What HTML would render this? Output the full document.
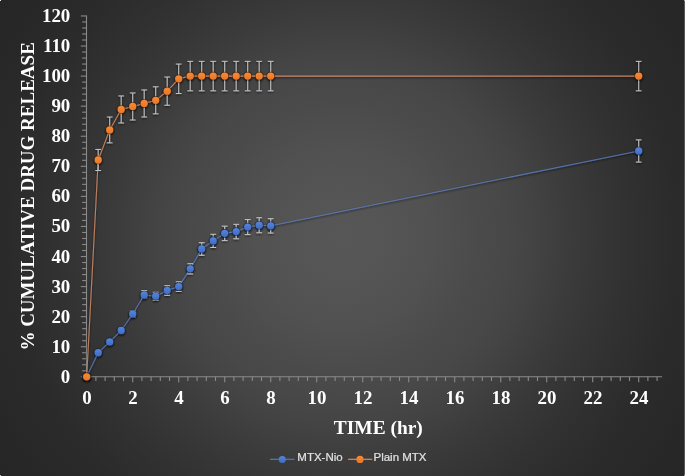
<!DOCTYPE html>
<html><head><meta charset="utf-8">
<style>
html,body{margin:0;padding:0;background:#fff;}
body{width:685px;height:476px;overflow:hidden;}
svg{display:block;}
.tl{font-family:"Liberation Serif",serif;font-weight:bold;fill:#fff;}
.lg{font-family:"Liberation Sans",sans-serif;fill:#e2e2e2;stroke:#e2e2e2;stroke-width:0.2px;}
</style></head><body>
<svg width="685" height="476" viewBox="0 0 685 476">
<defs>
<radialGradient id="bg" gradientUnits="userSpaceOnUse" cx="342.5" cy="238" r="417">
<stop offset="0" stop-color="rgb(87,87,87)"/>
<stop offset="0.11" stop-color="rgb(85,85,85)"/>
<stop offset="0.216" stop-color="rgb(81,81,81)"/>
<stop offset="0.32" stop-color="rgb(75,75,75)"/>
<stop offset="0.39" stop-color="rgb(72,72,72)"/>
<stop offset="0.45" stop-color="rgb(68,68,68)"/>
<stop offset="0.55" stop-color="rgb(59,59,59)"/>
<stop offset="0.616" stop-color="rgb(54,54,54)"/>
<stop offset="0.69" stop-color="rgb(49,49,49)"/>
<stop offset="0.80" stop-color="rgb(43,43,43)"/>
<stop offset="0.94" stop-color="rgb(39,39,39)"/>
<stop offset="1" stop-color="rgb(38,38,38)"/>
</radialGradient>
<filter id="sh" x="-20%" y="-20%" width="140%" height="140%">
<feGaussianBlur in="SourceAlpha" stdDeviation="0.9"/>
<feOffset dx="0.3" dy="0.7" result="o"/>
<feComponentTransfer><feFuncA type="linear" slope="0.85"/></feComponentTransfer>
<feMerge><feMergeNode/><feMergeNode in="SourceGraphic"/></feMerge>
</filter>
<linearGradient id="gb" x1="0" y1="0" x2="0" y2="1"><stop offset="0" stop-color="#5585dc"/><stop offset="1" stop-color="#3f6cc2"/></linearGradient>
<linearGradient id="go" x1="0" y1="0" x2="0" y2="1"><stop offset="0" stop-color="#f78a33"/><stop offset="1" stop-color="#e8772a"/></linearGradient>
<filter id="gs"><feOffset dx="0" dy="0"/></filter>
</defs>
<rect x="0" y="0" width="685" height="476" fill="url(#bg)"/>
<rect x="684" y="0" width="1" height="476" fill="#585858"/>
<rect x="0" y="0" width="1" height="1" fill="#f0f0f0"/>
<rect x="684" y="0" width="1" height="1" fill="#b0b0b0"/>
<rect x="0" y="475" width="1" height="1" fill="#c4c4c4"/>
<rect x="684" y="475" width="1" height="1" fill="#b0b0b0"/>

<g stroke="#8a8a8a" stroke-width="1.1" fill="none">
<line x1="86.5" y1="15.46" x2="86.5" y2="377.3"/>
<line x1="86" y1="376.8" x2="662" y2="376.8"/>
<line x1="80.8" y1="376.80" x2="86.5" y2="376.80"/>
<line x1="82.2" y1="370.79" x2="86.5" y2="370.79"/>
<line x1="82.2" y1="364.77" x2="86.5" y2="364.77"/>
<line x1="82.2" y1="358.76" x2="86.5" y2="358.76"/>
<line x1="82.2" y1="352.74" x2="86.5" y2="352.74"/>
<line x1="80.8" y1="346.73" x2="86.5" y2="346.73"/>
<line x1="82.2" y1="340.72" x2="86.5" y2="340.72"/>
<line x1="82.2" y1="334.70" x2="86.5" y2="334.70"/>
<line x1="82.2" y1="328.69" x2="86.5" y2="328.69"/>
<line x1="82.2" y1="322.67" x2="86.5" y2="322.67"/>
<line x1="80.8" y1="316.66" x2="86.5" y2="316.66"/>
<line x1="82.2" y1="310.65" x2="86.5" y2="310.65"/>
<line x1="82.2" y1="304.63" x2="86.5" y2="304.63"/>
<line x1="82.2" y1="298.62" x2="86.5" y2="298.62"/>
<line x1="82.2" y1="292.60" x2="86.5" y2="292.60"/>
<line x1="80.8" y1="286.59" x2="86.5" y2="286.59"/>
<line x1="82.2" y1="280.58" x2="86.5" y2="280.58"/>
<line x1="82.2" y1="274.56" x2="86.5" y2="274.56"/>
<line x1="82.2" y1="268.55" x2="86.5" y2="268.55"/>
<line x1="82.2" y1="262.53" x2="86.5" y2="262.53"/>
<line x1="80.8" y1="256.52" x2="86.5" y2="256.52"/>
<line x1="82.2" y1="250.51" x2="86.5" y2="250.51"/>
<line x1="82.2" y1="244.49" x2="86.5" y2="244.49"/>
<line x1="82.2" y1="238.48" x2="86.5" y2="238.48"/>
<line x1="82.2" y1="232.46" x2="86.5" y2="232.46"/>
<line x1="80.8" y1="226.45" x2="86.5" y2="226.45"/>
<line x1="82.2" y1="220.44" x2="86.5" y2="220.44"/>
<line x1="82.2" y1="214.42" x2="86.5" y2="214.42"/>
<line x1="82.2" y1="208.41" x2="86.5" y2="208.41"/>
<line x1="82.2" y1="202.39" x2="86.5" y2="202.39"/>
<line x1="80.8" y1="196.38" x2="86.5" y2="196.38"/>
<line x1="82.2" y1="190.37" x2="86.5" y2="190.37"/>
<line x1="82.2" y1="184.35" x2="86.5" y2="184.35"/>
<line x1="82.2" y1="178.34" x2="86.5" y2="178.34"/>
<line x1="82.2" y1="172.32" x2="86.5" y2="172.32"/>
<line x1="80.8" y1="166.31" x2="86.5" y2="166.31"/>
<line x1="82.2" y1="160.30" x2="86.5" y2="160.30"/>
<line x1="82.2" y1="154.28" x2="86.5" y2="154.28"/>
<line x1="82.2" y1="148.27" x2="86.5" y2="148.27"/>
<line x1="82.2" y1="142.25" x2="86.5" y2="142.25"/>
<line x1="80.8" y1="136.24" x2="86.5" y2="136.24"/>
<line x1="82.2" y1="130.23" x2="86.5" y2="130.23"/>
<line x1="82.2" y1="124.21" x2="86.5" y2="124.21"/>
<line x1="82.2" y1="118.20" x2="86.5" y2="118.20"/>
<line x1="82.2" y1="112.18" x2="86.5" y2="112.18"/>
<line x1="80.8" y1="106.17" x2="86.5" y2="106.17"/>
<line x1="82.2" y1="100.16" x2="86.5" y2="100.16"/>
<line x1="82.2" y1="94.14" x2="86.5" y2="94.14"/>
<line x1="82.2" y1="88.13" x2="86.5" y2="88.13"/>
<line x1="82.2" y1="82.11" x2="86.5" y2="82.11"/>
<line x1="80.8" y1="76.10" x2="86.5" y2="76.10"/>
<line x1="82.2" y1="70.09" x2="86.5" y2="70.09"/>
<line x1="82.2" y1="64.07" x2="86.5" y2="64.07"/>
<line x1="82.2" y1="58.06" x2="86.5" y2="58.06"/>
<line x1="82.2" y1="52.04" x2="86.5" y2="52.04"/>
<line x1="80.8" y1="46.03" x2="86.5" y2="46.03"/>
<line x1="82.2" y1="40.02" x2="86.5" y2="40.02"/>
<line x1="82.2" y1="34.00" x2="86.5" y2="34.00"/>
<line x1="82.2" y1="27.99" x2="86.5" y2="27.99"/>
<line x1="82.2" y1="21.97" x2="86.5" y2="21.97"/>
<line x1="80.8" y1="15.96" x2="86.5" y2="15.96"/>
<line x1="86.70" y1="376.8" x2="86.70" y2="382.3"/>
<line x1="95.90" y1="376.8" x2="95.90" y2="381"/>
<line x1="105.10" y1="376.8" x2="105.10" y2="381"/>
<line x1="114.30" y1="376.8" x2="114.30" y2="381"/>
<line x1="123.50" y1="376.8" x2="123.50" y2="381"/>
<line x1="132.70" y1="376.8" x2="132.70" y2="382.3"/>
<line x1="141.90" y1="376.8" x2="141.90" y2="381"/>
<line x1="151.10" y1="376.8" x2="151.10" y2="381"/>
<line x1="160.30" y1="376.8" x2="160.30" y2="381"/>
<line x1="169.50" y1="376.8" x2="169.50" y2="381"/>
<line x1="178.70" y1="376.8" x2="178.70" y2="382.3"/>
<line x1="187.90" y1="376.8" x2="187.90" y2="381"/>
<line x1="197.10" y1="376.8" x2="197.10" y2="381"/>
<line x1="206.30" y1="376.8" x2="206.30" y2="381"/>
<line x1="215.50" y1="376.8" x2="215.50" y2="381"/>
<line x1="224.70" y1="376.8" x2="224.70" y2="382.3"/>
<line x1="233.90" y1="376.8" x2="233.90" y2="381"/>
<line x1="243.10" y1="376.8" x2="243.10" y2="381"/>
<line x1="252.30" y1="376.8" x2="252.30" y2="381"/>
<line x1="261.50" y1="376.8" x2="261.50" y2="381"/>
<line x1="270.70" y1="376.8" x2="270.70" y2="382.3"/>
<line x1="279.90" y1="376.8" x2="279.90" y2="381"/>
<line x1="289.10" y1="376.8" x2="289.10" y2="381"/>
<line x1="298.30" y1="376.8" x2="298.30" y2="381"/>
<line x1="307.50" y1="376.8" x2="307.50" y2="381"/>
<line x1="316.70" y1="376.8" x2="316.70" y2="382.3"/>
<line x1="325.90" y1="376.8" x2="325.90" y2="381"/>
<line x1="335.10" y1="376.8" x2="335.10" y2="381"/>
<line x1="344.30" y1="376.8" x2="344.30" y2="381"/>
<line x1="353.50" y1="376.8" x2="353.50" y2="381"/>
<line x1="362.70" y1="376.8" x2="362.70" y2="382.3"/>
<line x1="371.90" y1="376.8" x2="371.90" y2="381"/>
<line x1="381.10" y1="376.8" x2="381.10" y2="381"/>
<line x1="390.30" y1="376.8" x2="390.30" y2="381"/>
<line x1="399.50" y1="376.8" x2="399.50" y2="381"/>
<line x1="408.70" y1="376.8" x2="408.70" y2="382.3"/>
<line x1="417.90" y1="376.8" x2="417.90" y2="381"/>
<line x1="427.10" y1="376.8" x2="427.10" y2="381"/>
<line x1="436.30" y1="376.8" x2="436.30" y2="381"/>
<line x1="445.50" y1="376.8" x2="445.50" y2="381"/>
<line x1="454.70" y1="376.8" x2="454.70" y2="382.3"/>
<line x1="463.90" y1="376.8" x2="463.90" y2="381"/>
<line x1="473.10" y1="376.8" x2="473.10" y2="381"/>
<line x1="482.30" y1="376.8" x2="482.30" y2="381"/>
<line x1="491.50" y1="376.8" x2="491.50" y2="381"/>
<line x1="500.70" y1="376.8" x2="500.70" y2="382.3"/>
<line x1="509.90" y1="376.8" x2="509.90" y2="381"/>
<line x1="519.10" y1="376.8" x2="519.10" y2="381"/>
<line x1="528.30" y1="376.8" x2="528.30" y2="381"/>
<line x1="537.50" y1="376.8" x2="537.50" y2="381"/>
<line x1="546.70" y1="376.8" x2="546.70" y2="382.3"/>
<line x1="555.90" y1="376.8" x2="555.90" y2="381"/>
<line x1="565.10" y1="376.8" x2="565.10" y2="381"/>
<line x1="574.30" y1="376.8" x2="574.30" y2="381"/>
<line x1="583.50" y1="376.8" x2="583.50" y2="381"/>
<line x1="592.70" y1="376.8" x2="592.70" y2="382.3"/>
<line x1="601.90" y1="376.8" x2="601.90" y2="381"/>
<line x1="611.10" y1="376.8" x2="611.10" y2="381"/>
<line x1="620.30" y1="376.8" x2="620.30" y2="381"/>
<line x1="629.50" y1="376.8" x2="629.50" y2="381"/>
<line x1="638.70" y1="376.8" x2="638.70" y2="382.3"/>
<line x1="647.90" y1="376.8" x2="647.90" y2="381"/>
<line x1="657.10" y1="376.8" x2="657.10" y2="381"/>
</g>
<g class="tl" font-size="18.9" filter="url(#gs)">
<text x="70.3" y="382.80" text-anchor="end">0</text>
<text x="70.3" y="352.73" text-anchor="end">10</text>
<text x="70.3" y="322.66" text-anchor="end">20</text>
<text x="70.3" y="292.59" text-anchor="end">30</text>
<text x="70.3" y="262.52" text-anchor="end">40</text>
<text x="70.3" y="232.45" text-anchor="end">50</text>
<text x="70.3" y="202.38" text-anchor="end">60</text>
<text x="70.3" y="172.31" text-anchor="end">70</text>
<text x="70.3" y="142.24" text-anchor="end">80</text>
<text x="70.3" y="112.17" text-anchor="end">90</text>
<text x="70.3" y="82.10" text-anchor="end">100</text>
<text x="70.3" y="52.03" text-anchor="end">110</text>
<text x="70.3" y="21.96" text-anchor="end">120</text>
<text x="87.00" y="404.3" text-anchor="middle">0</text>
<text x="133.00" y="404.3" text-anchor="middle">2</text>
<text x="179.00" y="404.3" text-anchor="middle">4</text>
<text x="225.00" y="404.3" text-anchor="middle">6</text>
<text x="271.00" y="404.3" text-anchor="middle">8</text>
<text x="317.00" y="404.3" text-anchor="middle">10</text>
<text x="363.00" y="404.3" text-anchor="middle">12</text>
<text x="409.00" y="404.3" text-anchor="middle">14</text>
<text x="455.00" y="404.3" text-anchor="middle">16</text>
<text x="501.00" y="404.3" text-anchor="middle">18</text>
<text x="547.00" y="404.3" text-anchor="middle">20</text>
<text x="593.00" y="404.3" text-anchor="middle">22</text>
<text x="639.00" y="404.3" text-anchor="middle">24</text>
<text font-size="19.4" x="378.3" y="434.0" text-anchor="middle">TIME (hr)</text>
<text font-size="19.0" transform="translate(34.0,196.4) rotate(-90)" text-anchor="middle">% CUMULATIVE DRUG RELEASE</text>
</g>
<g filter="url(#sh)">
<polyline points="86.70,376.80 98.20,352.74 109.70,341.92 121.20,330.49 132.70,313.95 144.20,295.01 155.70,296.21 167.20,290.50 178.70,286.59 190.20,268.85 201.70,249.00 213.20,240.88 224.70,233.37 236.20,231.56 247.70,227.05 259.20,225.25 270.70,225.85 638.70,150.97" fill="none" stroke="#5c80c4" stroke-width="1.05" stroke-opacity="0.8" stroke-linejoin="round"/>
<path d="M98.20 351.24V354.25M95.30 351.24H101.10M95.30 354.25H101.10M109.70 340.11V343.72M106.80 340.11H112.60M106.80 343.72H112.60M121.20 328.09V332.90M118.30 328.09H124.10M118.30 332.90H124.10M132.70 310.95V316.96M129.80 310.95H135.60M129.80 316.96H135.60M144.20 290.65V298.02M141.30 290.65H147.10M141.30 298.02H147.10M155.70 292.30V300.12M152.80 292.30H158.60M152.80 300.12H158.60M167.20 285.69V295.31M164.30 285.69H170.10M164.30 295.31H170.10M178.70 281.78V291.40M175.80 281.78H181.60M175.80 291.40H181.60M190.20 263.74V273.96M187.30 263.74H193.10M187.30 273.96H193.10M201.70 242.69V255.32M198.80 242.69H204.60M198.80 255.32H204.60M213.20 234.27V247.50M210.30 234.27H216.10M210.30 247.50H216.10M224.70 226.15V240.58M221.80 226.15H227.60M221.80 240.58H227.60M236.20 224.35V238.78M233.30 224.35H239.10M233.30 238.78H239.10M247.70 219.53V234.57M244.80 219.53H250.60M244.80 234.57H250.60M259.20 217.73V232.76M256.30 217.73H262.10M256.30 232.76H262.10M270.70 218.63V233.07M267.80 218.63H273.60M267.80 233.07H273.60M638.70 139.85V162.10M635.80 139.85H641.60M635.80 162.10H641.60" stroke="#c4c4c4" stroke-width="1" fill="none"/>
<circle cx="86.70" cy="376.80" r="4.3" fill="#14203a" fill-opacity="0.75"/>
<circle cx="86.70" cy="376.80" r="3.65" fill="url(#gb)"/>
<circle cx="98.20" cy="352.74" r="4.3" fill="#14203a" fill-opacity="0.75"/>
<circle cx="98.20" cy="352.74" r="3.65" fill="url(#gb)"/>
<circle cx="109.70" cy="341.92" r="4.3" fill="#14203a" fill-opacity="0.75"/>
<circle cx="109.70" cy="341.92" r="3.65" fill="url(#gb)"/>
<circle cx="121.20" cy="330.49" r="4.3" fill="#14203a" fill-opacity="0.75"/>
<circle cx="121.20" cy="330.49" r="3.65" fill="url(#gb)"/>
<circle cx="132.70" cy="313.95" r="4.3" fill="#14203a" fill-opacity="0.75"/>
<circle cx="132.70" cy="313.95" r="3.65" fill="url(#gb)"/>
<circle cx="144.20" cy="295.01" r="4.3" fill="#14203a" fill-opacity="0.75"/>
<circle cx="144.20" cy="295.01" r="3.65" fill="url(#gb)"/>
<circle cx="155.70" cy="296.21" r="4.3" fill="#14203a" fill-opacity="0.75"/>
<circle cx="155.70" cy="296.21" r="3.65" fill="url(#gb)"/>
<circle cx="167.20" cy="290.50" r="4.3" fill="#14203a" fill-opacity="0.75"/>
<circle cx="167.20" cy="290.50" r="3.65" fill="url(#gb)"/>
<circle cx="178.70" cy="286.59" r="4.3" fill="#14203a" fill-opacity="0.75"/>
<circle cx="178.70" cy="286.59" r="3.65" fill="url(#gb)"/>
<circle cx="190.20" cy="268.85" r="4.3" fill="#14203a" fill-opacity="0.75"/>
<circle cx="190.20" cy="268.85" r="3.65" fill="url(#gb)"/>
<circle cx="201.70" cy="249.00" r="4.3" fill="#14203a" fill-opacity="0.75"/>
<circle cx="201.70" cy="249.00" r="3.65" fill="url(#gb)"/>
<circle cx="213.20" cy="240.88" r="4.3" fill="#14203a" fill-opacity="0.75"/>
<circle cx="213.20" cy="240.88" r="3.65" fill="url(#gb)"/>
<circle cx="224.70" cy="233.37" r="4.3" fill="#14203a" fill-opacity="0.75"/>
<circle cx="224.70" cy="233.37" r="3.65" fill="url(#gb)"/>
<circle cx="236.20" cy="231.56" r="4.3" fill="#14203a" fill-opacity="0.75"/>
<circle cx="236.20" cy="231.56" r="3.65" fill="url(#gb)"/>
<circle cx="247.70" cy="227.05" r="4.3" fill="#14203a" fill-opacity="0.75"/>
<circle cx="247.70" cy="227.05" r="3.65" fill="url(#gb)"/>
<circle cx="259.20" cy="225.25" r="4.3" fill="#14203a" fill-opacity="0.75"/>
<circle cx="259.20" cy="225.25" r="3.65" fill="url(#gb)"/>
<circle cx="270.70" cy="225.85" r="4.3" fill="#14203a" fill-opacity="0.75"/>
<circle cx="270.70" cy="225.85" r="3.65" fill="url(#gb)"/>
<circle cx="638.70" cy="150.97" r="4.3" fill="#14203a" fill-opacity="0.75"/>
<circle cx="638.70" cy="150.97" r="3.65" fill="url(#gb)"/>
</g>
<g filter="url(#sh)">
<polyline points="86.70,376.80 98.20,160.00 109.70,129.93 121.20,109.48 132.70,106.47 144.20,103.46 155.70,100.31 167.20,91.13 178.70,78.81 190.20,76.10 201.70,76.10 213.20,76.10 224.70,76.10 236.20,76.10 247.70,76.10 259.20,76.10 270.70,76.10 638.70,76.10" fill="none" stroke="#e0926a" stroke-width="1.05" stroke-opacity="0.8" stroke-linejoin="round"/>
<path d="M98.20 149.47V170.52M95.30 149.47H101.10M95.30 170.52H101.10M109.70 117.00V142.86M106.80 117.00H112.60M106.80 142.86H112.60M121.20 95.95V123.01M118.30 95.95H124.10M118.30 123.01H124.10M132.70 92.94V120.00M129.80 92.94H135.60M129.80 120.00H135.60M144.20 89.93V117.00M141.30 89.93H147.10M141.30 117.00H147.10M155.70 86.77V113.84M152.80 86.77H158.60M152.80 113.84H158.60M167.20 77.00V105.27M164.30 77.00H170.10M164.30 105.27H170.10M178.70 64.07V93.54M175.80 64.07H181.60M175.80 93.54H181.60M190.20 61.37V90.83M187.30 61.37H193.10M187.30 90.83H193.10M201.70 61.37V90.83M198.80 61.37H204.60M198.80 90.83H204.60M213.20 61.37V90.83M210.30 61.37H216.10M210.30 90.83H216.10M224.70 61.37V90.83M221.80 61.37H227.60M221.80 90.83H227.60M236.20 61.37V90.83M233.30 61.37H239.10M233.30 90.83H239.10M247.70 61.37V90.83M244.80 61.37H250.60M244.80 90.83H250.60M259.20 61.37V90.83M256.30 61.37H262.10M256.30 90.83H262.10M270.70 61.37V90.83M267.80 61.37H273.60M267.80 90.83H273.60M638.70 61.37V90.83M635.80 61.37H641.60M635.80 90.83H641.60" stroke="#c4c4c4" stroke-width="1" fill="none"/>
<circle cx="86.70" cy="376.80" r="4.3" fill="#3a1c0a" fill-opacity="0.75"/>
<circle cx="86.70" cy="376.80" r="3.65" fill="url(#go)"/>
<circle cx="98.20" cy="160.00" r="4.3" fill="#3a1c0a" fill-opacity="0.75"/>
<circle cx="98.20" cy="160.00" r="3.65" fill="url(#go)"/>
<circle cx="109.70" cy="129.93" r="4.3" fill="#3a1c0a" fill-opacity="0.75"/>
<circle cx="109.70" cy="129.93" r="3.65" fill="url(#go)"/>
<circle cx="121.20" cy="109.48" r="4.3" fill="#3a1c0a" fill-opacity="0.75"/>
<circle cx="121.20" cy="109.48" r="3.65" fill="url(#go)"/>
<circle cx="132.70" cy="106.47" r="4.3" fill="#3a1c0a" fill-opacity="0.75"/>
<circle cx="132.70" cy="106.47" r="3.65" fill="url(#go)"/>
<circle cx="144.20" cy="103.46" r="4.3" fill="#3a1c0a" fill-opacity="0.75"/>
<circle cx="144.20" cy="103.46" r="3.65" fill="url(#go)"/>
<circle cx="155.70" cy="100.31" r="4.3" fill="#3a1c0a" fill-opacity="0.75"/>
<circle cx="155.70" cy="100.31" r="3.65" fill="url(#go)"/>
<circle cx="167.20" cy="91.13" r="4.3" fill="#3a1c0a" fill-opacity="0.75"/>
<circle cx="167.20" cy="91.13" r="3.65" fill="url(#go)"/>
<circle cx="178.70" cy="78.81" r="4.3" fill="#3a1c0a" fill-opacity="0.75"/>
<circle cx="178.70" cy="78.81" r="3.65" fill="url(#go)"/>
<circle cx="190.20" cy="76.10" r="4.3" fill="#3a1c0a" fill-opacity="0.75"/>
<circle cx="190.20" cy="76.10" r="3.65" fill="url(#go)"/>
<circle cx="201.70" cy="76.10" r="4.3" fill="#3a1c0a" fill-opacity="0.75"/>
<circle cx="201.70" cy="76.10" r="3.65" fill="url(#go)"/>
<circle cx="213.20" cy="76.10" r="4.3" fill="#3a1c0a" fill-opacity="0.75"/>
<circle cx="213.20" cy="76.10" r="3.65" fill="url(#go)"/>
<circle cx="224.70" cy="76.10" r="4.3" fill="#3a1c0a" fill-opacity="0.75"/>
<circle cx="224.70" cy="76.10" r="3.65" fill="url(#go)"/>
<circle cx="236.20" cy="76.10" r="4.3" fill="#3a1c0a" fill-opacity="0.75"/>
<circle cx="236.20" cy="76.10" r="3.65" fill="url(#go)"/>
<circle cx="247.70" cy="76.10" r="4.3" fill="#3a1c0a" fill-opacity="0.75"/>
<circle cx="247.70" cy="76.10" r="3.65" fill="url(#go)"/>
<circle cx="259.20" cy="76.10" r="4.3" fill="#3a1c0a" fill-opacity="0.75"/>
<circle cx="259.20" cy="76.10" r="3.65" fill="url(#go)"/>
<circle cx="270.70" cy="76.10" r="4.3" fill="#3a1c0a" fill-opacity="0.75"/>
<circle cx="270.70" cy="76.10" r="3.65" fill="url(#go)"/>
<circle cx="638.70" cy="76.10" r="4.3" fill="#3a1c0a" fill-opacity="0.75"/>
<circle cx="638.70" cy="76.10" r="3.65" fill="url(#go)"/>
</g>
<g filter="url(#gs)">
<line x1="270" y1="459.3" x2="294.5" y2="459.3" stroke="#5078c4" stroke-width="1.2"/>
<circle cx="282.3" cy="459.4" r="3.5" fill="url(#gb)"/>
<text class="lg" font-size="11.5" x="297.3" y="461.2">MTX-Nio</text>
<line x1="348.1" y1="459.3" x2="372.2" y2="459.3" stroke="#e8864a" stroke-width="1.2"/>
<circle cx="360" cy="459.4" r="3.6" fill="url(#go)"/>
<text class="lg" font-size="11.5" x="373.5" y="461.2">Plain MTX</text>
</g>
</svg>
</body></html>
